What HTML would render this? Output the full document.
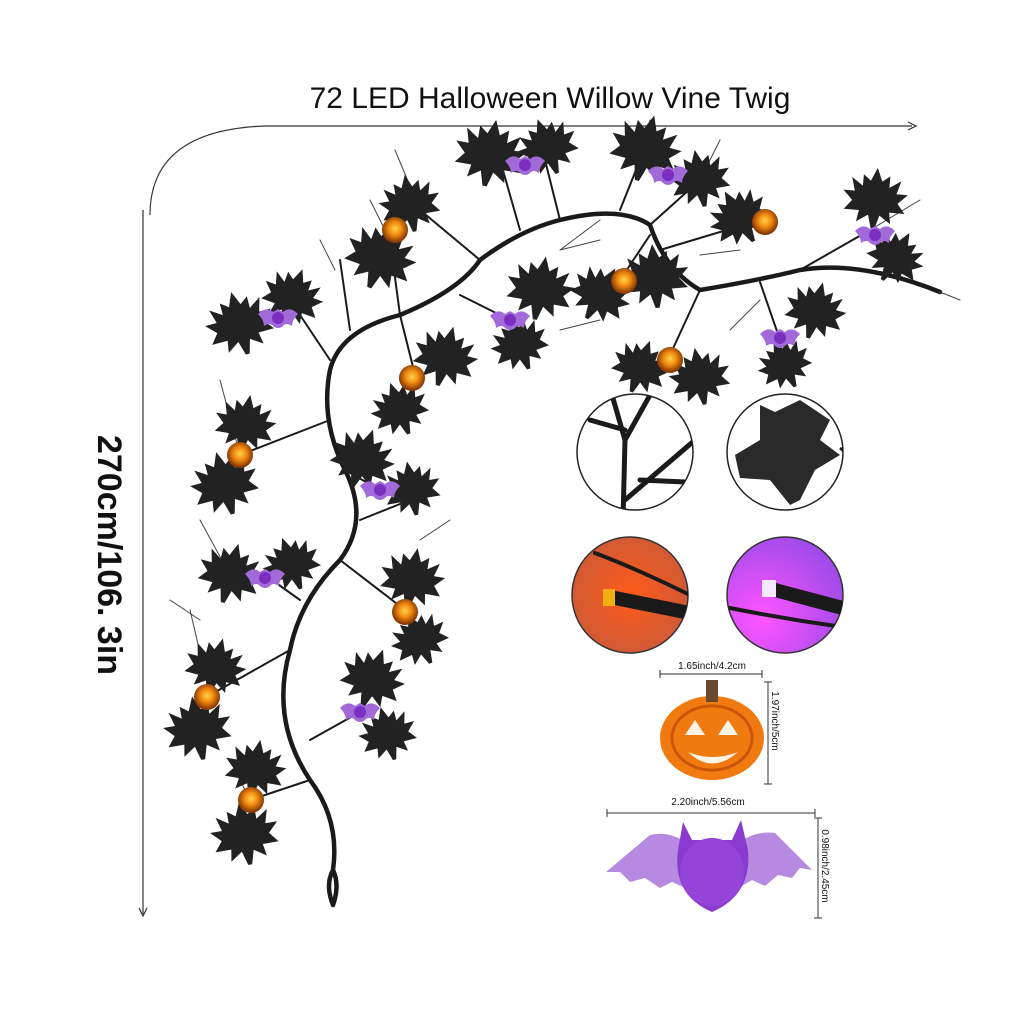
<!DOCTYPE html>
<html><head><meta charset="utf-8"><style>
html,body{margin:0;padding:0;background:#fff;}
svg{display:block}
</style></head><body>
<svg width="1024" height="1024" viewBox="0 0 1024 1024" xmlns="http://www.w3.org/2000/svg">
<defs>
<path id="lf" d="M0,-34 L6,-20 L14,-26 L14,-14 L26,-22 L22,-8 L34,-8 L24,2 L32,12 L16,12 L18,24 L6,16 L2,30 L-2,30 L-6,16 L-18,24 L-16,12 L-32,12 L-24,2 L-34,-8 L-22,-8 L-26,-22 L-14,-14 L-14,-26 L-6,-20 Z" fill="#222"/>
<radialGradient id="og" cx="0.5" cy="0.45" r="0.5"><stop offset="0" stop-color="#ffd24a"/><stop offset="0.5" stop-color="#f08a10"/><stop offset="1" stop-color="#8a3a05"/></radialGradient>
<g id="bt"><path d="M-20,-4 Q-12,-12 -5,-6 L0,-9 L5,-6 Q12,-12 20,-4 Q14,2 14,8 Q8,4 5,8 Q0,12 -5,8 Q-8,4 -14,8 Q-14,2 -20,-4Z" fill="#a26ad8"/><circle r="6" fill="#7b2fc0"/></g>
<radialGradient id="rg" cx="0.5" cy="0.5" r="0.6"><stop offset="0" stop-color="#ff5a1a"/><stop offset="1" stop-color="#c85a3a"/></radialGradient>
<radialGradient id="pg" cx="0.3" cy="0.7" r="0.8"><stop offset="0" stop-color="#ff55ff"/><stop offset="1" stop-color="#9a4ae8"/></radialGradient>
<clipPath id="c1"><circle cx="635" cy="452" r="58"/></clipPath>
<clipPath id="c2"><circle cx="785" cy="452" r="58"/></clipPath>
<clipPath id="c3"><circle cx="630" cy="595" r="58"/></clipPath>
<clipPath id="c4"><circle cx="785" cy="595" r="58"/></clipPath>
</defs>

<text x="550" y="108" font-family="Liberation Sans, sans-serif" font-size="30" text-anchor="middle" fill="#111">72 LED Halloween Willow Vine Twig</text>
<path d="M150,215 Q150,130 265,126 L912,126" fill="none" stroke="#333" stroke-width="1.2"/>
<path d="M908,122 L916,126 L908,130" fill="none" stroke="#333" stroke-width="1.2"/>
<line x1="143" y1="210" x2="143" y2="914" stroke="#333" stroke-width="1.2"/>
<path d="M139,908 L143,916 L147,908" fill="none" stroke="#333" stroke-width="1.2"/>
<text transform="translate(98,555) rotate(90)" font-family="Liberation Sans, sans-serif" font-size="34" font-weight="bold" text-anchor="middle" fill="#111">270cm/106. 3in</text>

<g fill="none" stroke="#1a1a1a" stroke-linecap="round">
<path d="M333,905 Q325,885 333,870 Q340,885 333,905 M333,870 Q340,820 310,780 Q270,720 290,650 Q300,600 340,560 Q370,520 345,470 Q320,420 330,370 Q340,330 400,315 Q460,290 480,260 Q520,230 560,220 Q620,205 650,225 Q665,270 700,290 Q760,280 800,270 Q860,260 940,292" stroke-width="4.5"/>
<g stroke-width="2">
<path d="M330,360 L290,300 M350,330 L340,260 M400,315 L390,240 M480,260 L420,210 M520,230 L500,160 M560,220 L545,160 M620,210 L640,160 M650,225 L700,180 M660,250 L760,220 M650,235 L620,280 M700,290 L670,355 M760,282 L780,340 M800,270 L870,230 M400,315 L415,375 M460,295 L510,320 M330,420 L240,455 M345,470 L380,490 M360,520 L410,500 M340,560 L405,610 M300,600 L265,575 M290,650 L210,695 M310,740 L360,712 M310,780 L250,800"/>
</g>
<g stroke-width="1" stroke="#444">
<path d="M390,240 L370,200 M420,210 L395,150 M640,160 L650,120 M700,180 L720,140 M870,230 L920,200 M940,292 L960,300 M250,330 L230,300 M240,455 L220,380 M230,575 L200,520 M210,695 L190,610 M250,800 L230,760 M420,540 L450,520 M320,240 L335,270 M560,250 L600,240 M730,330 L760,300 M600,220 L560,250 M700,255 L740,250 M600,320 L560,330 M200,620 L170,600"/>
</g>
</g>

<g>
<use href="#lf" transform="translate(490,155) rotate(10) scale(1.05)"/>
<use href="#lf" transform="translate(548,148) rotate(-20) scale(.9)"/>
<use href="#lf" transform="translate(645,150) rotate(15) scale(1.05)"/>
<use href="#lf" transform="translate(700,180) rotate(-10) scale(.9)"/>
<use href="#lf" transform="translate(875,200) rotate(5) scale(.95)"/>
<use href="#lf" transform="translate(895,258) rotate(30) scale(.85)"/>
<use href="#lf" transform="translate(740,218) rotate(-30) scale(.9)"/>
<use href="#lf" transform="translate(380,258) rotate(20) scale(1.05)"/>
<use href="#lf" transform="translate(410,205) rotate(-10) scale(.9)"/>
<use href="#lf" transform="translate(240,325) rotate(-15) scale(1)"/>
<use href="#lf" transform="translate(292,298) rotate(20) scale(.9)"/>
<use href="#lf" transform="translate(540,290) rotate(10) scale(1)"/>
<use href="#lf" transform="translate(520,345) rotate(-20) scale(.85)"/>
<use href="#lf" transform="translate(600,295) rotate(30) scale(.9)"/>
<use href="#lf" transform="translate(655,278) rotate(-5) scale(1)"/>
<use href="#lf" transform="translate(815,312) rotate(15) scale(.9)"/>
<use href="#lf" transform="translate(785,365) rotate(-25) scale(.8)"/>
<use href="#lf" transform="translate(640,368) rotate(20) scale(.85)"/>
<use href="#lf" transform="translate(700,378) rotate(-10) scale(.9)"/>
<use href="#lf" transform="translate(445,358) rotate(15) scale(.95)"/>
<use href="#lf" transform="translate(400,410) rotate(-20) scale(.85)"/>
<use href="#lf" transform="translate(245,425) rotate(10) scale(.9)"/>
<use href="#lf" transform="translate(225,485) rotate(-15) scale(1)"/>
<use href="#lf" transform="translate(362,460) rotate(20) scale(.95)"/>
<use href="#lf" transform="translate(412,490) rotate(-10) scale(.85)"/>
<use href="#lf" transform="translate(230,575) rotate(15) scale(.95)"/>
<use href="#lf" transform="translate(292,565) rotate(-20) scale(.85)"/>
<use href="#lf" transform="translate(412,580) rotate(10) scale(.95)"/>
<use href="#lf" transform="translate(420,640) rotate(-25) scale(.85)"/>
<use href="#lf" transform="translate(215,668) rotate(15) scale(.9)"/>
<use href="#lf" transform="translate(198,730) rotate(-10) scale(1)"/>
<use href="#lf" transform="translate(372,680) rotate(20) scale(.95)"/>
<use href="#lf" transform="translate(388,735) rotate(-15) scale(.85)"/>
<use href="#lf" transform="translate(255,770) rotate(10) scale(.9)"/>
<use href="#lf" transform="translate(245,835) rotate(-10) scale(1)"/>
</g>

<g fill="url(#og)">
<circle cx="395" cy="230" r="13"/><circle cx="240" cy="455" r="13"/><circle cx="412" cy="378" r="13"/>
<circle cx="624" cy="281" r="13"/><circle cx="670" cy="360" r="13"/><circle cx="765" cy="222" r="13"/>
<circle cx="405" cy="612" r="13"/><circle cx="207" cy="697" r="13"/><circle cx="251" cy="800" r="13"/>
</g>
<use href="#bt" transform="translate(278,318)"/><use href="#bt" transform="translate(525,165)"/>
<use href="#bt" transform="translate(668,175)"/><use href="#bt" transform="translate(875,235)"/>
<use href="#bt" transform="translate(510,320)"/><use href="#bt" transform="translate(380,490)"/>
<use href="#bt" transform="translate(265,578)"/><use href="#bt" transform="translate(360,712)"/>
<use href="#bt" transform="translate(780,338)"/>

<circle cx="635" cy="452" r="58" fill="#fff" stroke="#222" stroke-width="1.5"/>
<g clip-path="url(#c1)" fill="none" stroke="#1a1a1a" stroke-linecap="round">
<path d="M623,520 L625,440 L612,395 M625,440 L650,395 M625,500 L695,440 M640,480 L685,482 M625,430 L590,420" stroke-width="5"/>
</g>
<circle cx="785" cy="452" r="58" fill="#fff" stroke="#222" stroke-width="1.5"/>
<g clip-path="url(#c2)">
<path d="M760,405 L775,412 L800,400 L830,420 L820,440 L840,455 L815,470 L800,500 L790,505 L770,480 L740,478 L735,455 L760,440 Z" fill="#2a2a2a"/>
<path d="M840,448 Q855,460 870,470" stroke="#222" stroke-width="3" fill="none"/>
</g>
<circle cx="630" cy="595" r="58" fill="url(#rg)" stroke="#333" stroke-width="1.5"/>
<g clip-path="url(#c3)" stroke="#1a1a1a" stroke-linecap="round" fill="none">
<path d="M595,553 Q640,570 700,600" stroke-width="4"/>
<path d="M615,598 L700,615" stroke-width="14"/>
</g>
<rect x="603" y="589" width="12" height="17" fill="#f0b010"/>
<circle cx="785" cy="595" r="58" fill="url(#pg)" stroke="#333" stroke-width="1.5"/>
<g clip-path="url(#c4)" stroke="#1a1a1a" stroke-linecap="round" fill="none">
<path d="M775,590 L850,610" stroke-width="14"/>
<path d="M730,608 Q790,620 850,628" stroke-width="4"/>
</g>
<rect x="762" y="580" width="14" height="17" fill="#f4e8ff"/>

<g font-family="Liberation Sans, sans-serif" font-size="10" fill="#111">
<text x="712" y="669" text-anchor="middle">1.65inch/4.2cm</text>
<text transform="translate(772,721) rotate(90)" text-anchor="middle">1.97inch/5cm</text>
<text x="708" y="805" text-anchor="middle">2.20inch/5.56cm</text>
<text transform="translate(822,866) rotate(90)" text-anchor="middle">0.98inch/2.45cm</text>
</g>
<g stroke="#333" stroke-width="1" fill="none">
<path d="M660,674 L762,674 M660,670 L660,678 M762,670 L762,678"/>
<path d="M768,682 L768,784 M764,682 L772,682 M764,784 L772,784"/>
<path d="M607,813 L815,813 M607,809 L607,817 M815,809 L815,817"/>
<path d="M818,818 L818,918 M814,818 L822,818 M814,918 L822,918"/>
</g>
<ellipse cx="712" cy="738" rx="52" ry="42" fill="#f07a10"/>
<ellipse cx="712" cy="738" rx="40" ry="32" fill="none" stroke="#c85508" stroke-width="3"/>
<rect x="706" y="680" width="12" height="22" fill="#6a4a2a"/>
<path d="M685,735 L695,720 L705,735Z M718,735 L728,720 L738,735Z" fill="#fff3e6"/>
<path d="M688,752 Q712,775 738,752 Q712,762 688,752Z" fill="#fff3e6"/>
<path d="M606,872 L650,835 Q670,830 690,845 L700,870 L690,890 L672,882 L660,888 L645,878 L630,882 L620,872Z" fill="#b68ae0"/>
<path d="M812,870 L775,833 Q755,830 735,845 L725,870 L735,890 L752,880 L765,886 L778,875 L792,878 L800,868Z" fill="#b68ae0"/>
<path d="M683,822 L692,840 L732,840 L741,820 L748,850 Q752,895 712,912 Q672,895 678,850Z" fill="#8a3ad0"/>
<ellipse cx="712" cy="872" rx="32" ry="34" fill="#9444d8"/>
</svg>
</body></html>
